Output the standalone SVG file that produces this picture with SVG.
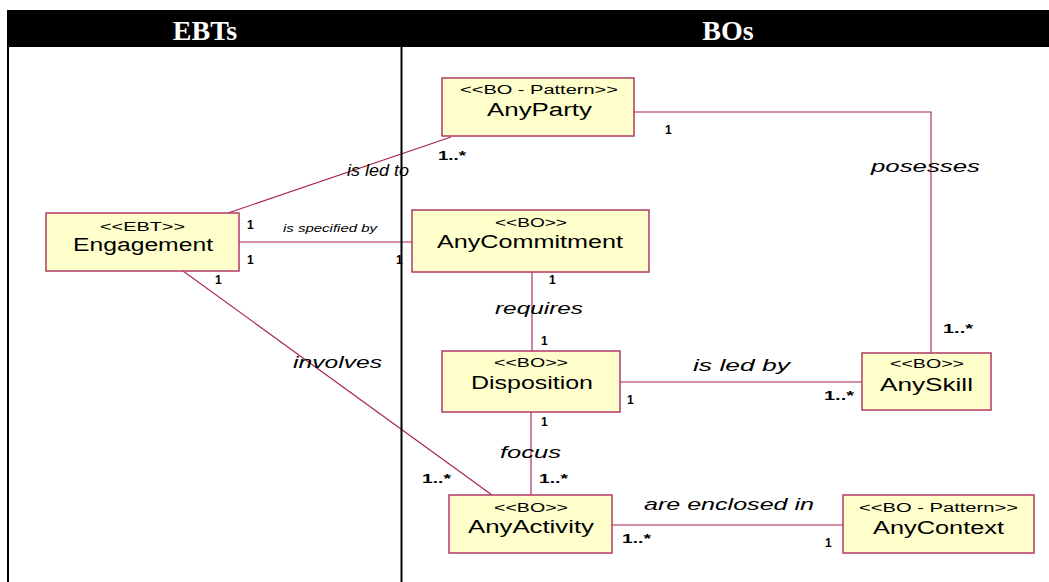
<svg xmlns="http://www.w3.org/2000/svg" width="1049" height="582" viewBox="0 0 1049 582">
<style>
.box{fill:#FFFFCC;stroke:#B03A64;stroke-width:1.5}
.st{font-family:"Liberation Sans",Arial,sans-serif;font-size:12px;fill:#000}
.nm{font-family:"Liberation Sans",Arial,sans-serif;font-size:18px;fill:#000}
.lb{font-family:"Liberation Sans",Arial,sans-serif;font-size:17px;font-style:italic;fill:#000}
.lbs{font-family:"Liberation Sans",Arial,sans-serif;font-size:11px;font-style:italic;fill:#000}
.mu{font-family:"Liberation Sans",Arial,sans-serif;font-size:12px;font-weight:bold;fill:#000}
.cn{fill:none;stroke:#A8204F;stroke-width:1.1}
.hd{font-family:"Liberation Serif","Times New Roman",serif;font-size:28px;font-weight:bold;fill:#fff}
</style>
<rect x="0" y="0" width="1049" height="582" fill="#fff"/>
<g id="connectors">
<polyline class="cn" points="451,137 228,213"/>
<polyline class="cn" points="239,242 412,242"/>
<polyline class="cn" points="634,112 931,112 931,353"/>
<polyline class="cn" points="532,272 532,351"/>
<polyline class="cn" points="620,382 862,382"/>
<polyline class="cn" points="183,271 492,495"/>
<polyline class="cn" points="531,412 531,495"/>
<polyline class="cn" points="612,525 843,525"/>
</g>
<g id="labels">
<text class="lb" x="347" y="176" textLength="62" lengthAdjust="spacingAndGlyphs">is led to</text>
<text class="lbs" x="283" y="232" textLength="94" lengthAdjust="spacingAndGlyphs">is specified by</text>
<text class="lb" x="871" y="172" textLength="109" lengthAdjust="spacingAndGlyphs">posesses</text>
<text class="lb" x="495" y="314" textLength="88" lengthAdjust="spacingAndGlyphs">requires</text>
<text class="lb" x="293" y="368" textLength="89" lengthAdjust="spacingAndGlyphs">involves</text>
<text class="lb" x="693" y="371" textLength="97" lengthAdjust="spacingAndGlyphs">is led by</text>
<text class="lb" x="500" y="458" textLength="61" lengthAdjust="spacingAndGlyphs">focus</text>
<text class="lb" x="644" y="510" textLength="170" lengthAdjust="spacingAndGlyphs">are enclosed in</text>
<text class="mu" x="665" y="134">1</text>
<text class="mu" x="438" y="160" textLength="28" lengthAdjust="spacingAndGlyphs">1..*</text>
<text class="mu" x="943" y="333" textLength="30" lengthAdjust="spacingAndGlyphs">1..*</text>
<text class="mu" x="247" y="229">1</text>
<text class="mu" x="247" y="264">1</text>
<text class="mu" x="215" y="284">1</text>
<text class="mu" x="396" y="264">1</text>
<text class="mu" x="549" y="284">1</text>
<text class="mu" x="541" y="345">1</text>
<text class="mu" x="627" y="404">1</text>
<text class="mu" x="824" y="400" textLength="30" lengthAdjust="spacingAndGlyphs">1..*</text>
<text class="mu" x="541" y="426">1</text>
<text class="mu" x="539" y="483" textLength="29" lengthAdjust="spacingAndGlyphs">1..*</text>
<text class="mu" x="422" y="483" textLength="29" lengthAdjust="spacingAndGlyphs">1..*</text>
<text class="mu" x="622" y="543" textLength="29" lengthAdjust="spacingAndGlyphs">1..*</text>
<text class="mu" x="825" y="547">1</text>
</g>
<g id="Engagement">
<rect class="box" x="46" y="213" width="193" height="58"/>
<text class="st" x="100" y="231" textLength="85" lengthAdjust="spacingAndGlyphs">&lt;&lt;EBT&gt;&gt;</text>
<text class="nm" x="73" y="251" textLength="140" lengthAdjust="spacingAndGlyphs">Engagement</text>
</g>
<g id="AnyParty">
<rect class="box" x="442" y="78" width="192" height="58"/>
<text class="st" x="460" y="94" textLength="158" lengthAdjust="spacingAndGlyphs">&lt;&lt;BO - Pattern&gt;&gt;</text>
<text class="nm" x="487" y="116" textLength="105" lengthAdjust="spacingAndGlyphs">AnyParty</text>
</g>
<g id="AnyCommitment">
<rect class="box" x="412" y="210" width="237" height="62"/>
<text class="st" x="495" y="227" textLength="72" lengthAdjust="spacingAndGlyphs">&lt;&lt;BO&gt;&gt;</text>
<text class="nm" x="437" y="248" textLength="186" lengthAdjust="spacingAndGlyphs">AnyCommitment</text>
</g>
<g id="Disposition">
<rect class="box" x="442" y="351" width="178" height="61"/>
<text class="st" x="494" y="367" textLength="74" lengthAdjust="spacingAndGlyphs">&lt;&lt;BO&gt;&gt;</text>
<text class="nm" x="471" y="389" textLength="122" lengthAdjust="spacingAndGlyphs">Disposition</text>
</g>
<g id="AnySkill">
<rect class="box" x="862" y="353" width="129" height="57"/>
<text class="st" x="890" y="368" textLength="74" lengthAdjust="spacingAndGlyphs">&lt;&lt;BO&gt;&gt;</text>
<text class="nm" x="880" y="391" textLength="93" lengthAdjust="spacingAndGlyphs">AnySkill</text>
</g>
<g id="AnyActivity">
<rect class="box" x="449" y="495" width="163" height="58"/>
<text class="st" x="494" y="512" textLength="74" lengthAdjust="spacingAndGlyphs">&lt;&lt;BO&gt;&gt;</text>
<text class="nm" x="468" y="533" textLength="126" lengthAdjust="spacingAndGlyphs">AnyActivity</text>
</g>
<g id="AnyContext">
<rect class="box" x="843" y="495" width="191" height="58"/>
<text class="st" x="859" y="512" textLength="159" lengthAdjust="spacingAndGlyphs">&lt;&lt;BO - Pattern&gt;&gt;</text>
<text class="nm" x="873" y="534" textLength="131" lengthAdjust="spacingAndGlyphs">AnyContext</text>
</g>
<g id="swimlanes">
<rect x="7" y="10" width="1042" height="37" fill="#000"/>
<line x1="8" y1="46" x2="8" y2="582" stroke="#000" stroke-width="2"/>
<line x1="401.5" y1="46" x2="401.5" y2="582" stroke="#000" stroke-width="2"/>
<text class="hd" x="205" y="40" text-anchor="middle">EBTs</text>
<text class="hd" x="728" y="40" text-anchor="middle">BOs</text>
</g>
</svg>
